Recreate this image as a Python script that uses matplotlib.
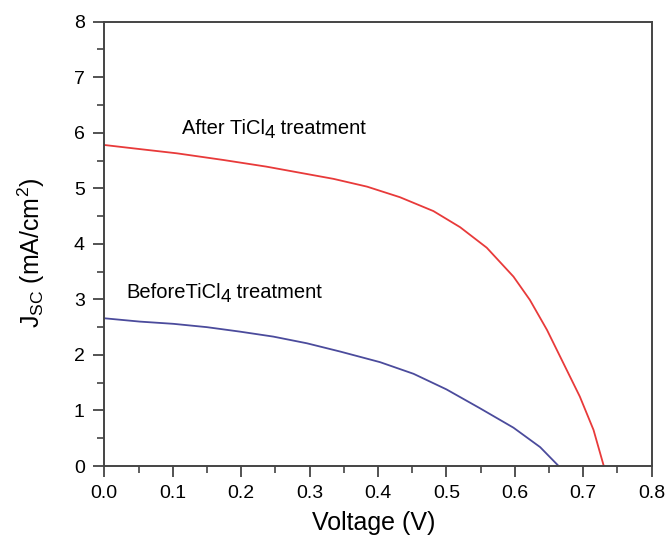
import numpy as np
import matplotlib
matplotlib.use("Agg")
from matplotlib import pyplot as plt
from matplotlib.ticker import MultipleLocator
from matplotlib.transforms import offset_copy

plt.rcParams['font.family'] = ['Liberation Sans', 'DejaVu Sans']
plt.rcParams['mathtext.fontset'] = 'custom'
plt.rcParams['mathtext.rm'] = 'Liberation Sans'
plt.rcParams['mathtext.it'] = 'Liberation Sans'

# Curvas J-V
v_after = [0.0, 0.042, 0.106, 0.174, 0.237, 0.286, 0.335, 0.384, 0.432, 0.481,
           0.52, 0.559, 0.598, 0.622, 0.647, 0.671, 0.695, 0.715, 0.730]
j_after = [5.78, 5.72, 5.63, 5.51, 5.39, 5.28, 5.17, 5.03, 4.84, 4.59,
           4.30, 3.93, 3.41, 2.99, 2.45, 1.85, 1.25, 0.65, 0.0]

v_before = [0.0, 0.052, 0.101, 0.15, 0.198, 0.247, 0.296, 0.345, 0.403, 0.452,
            0.50, 0.549, 0.598, 0.637, 0.664]
j_before = [2.66, 2.60, 2.56, 2.50, 2.42, 2.33, 2.21, 2.06, 1.87, 1.66,
            1.38, 1.04, 0.69, 0.34, 0.0]

fig = plt.figure(figsize=(6.66, 5.38), dpi=100)
ax = fig.add_axes([0.1566, 0.1338, 0.8219, 0.8259])

ax.plot(v_after, j_after, color='#e83a3a', lw=1.3)
ax.plot(v_before, j_before, color='#4b4b9c', lw=1.3)

ax.set_xlim(0, 0.8)
ax.set_ylim(0, 8)


def label_sub(x, y, pre, sub, post, size=14.5):
    """Texto con subíndice casi de tamaño normal."""
    t1 = ax.text(x, y, pre, fontsize=size, va='center')
    fig.canvas.draw()
    w1 = t1.get_window_extent().width
    tr = offset_copy(ax.transData, fig=fig, x=w1, y=-5, units='dots')
    t2 = ax.text(x, y, sub, fontsize=size - 1, va='center', transform=tr)
    fig.canvas.draw()
    w2 = t2.get_window_extent().width
    tr = offset_copy(ax.transData, fig=fig, x=w1 + w2, y=0, units='dots')
    ax.text(x, y, post, fontsize=size, va='center', transform=tr)


label_sub(0.1136, 6.08, 'After TiCl', '4', ' treatment')
label_sub(0.0317, 3.13, 'BeforeTiCl', '4', ' treatment')

ax.set_xticks(np.arange(0, 0.81, 0.1))
ax.set_xticklabels([f"{x:.1f}" for x in np.arange(0, 0.81, 0.1)])
ax.xaxis.set_minor_locator(MultipleLocator(0.05))
ax.yaxis.set_major_locator(MultipleLocator(1))
ax.yaxis.set_minor_locator(MultipleLocator(0.5))

for s in ax.spines.values():
    s.set_color('#444444')
    s.set_linewidth(1.4)
ax.tick_params(which='major', direction='out', length=8, width=1.3,
               color='#444444', labelsize=14, pad=6)
ax.tick_params(which='minor', direction='out', length=5, width=1.2,
               color='#444444')

ax.set_xlabel('Voltage (V)', fontsize=18)
ax.set_ylabel(r'J$_{SC}$ (mA/cm$^2$)', fontsize=18)
ax.xaxis.set_label_coords(0.492, -0.102)
ax.yaxis.set_label_coords(-0.105, 0.479)

fig.savefig('out.png', dpi=100)
